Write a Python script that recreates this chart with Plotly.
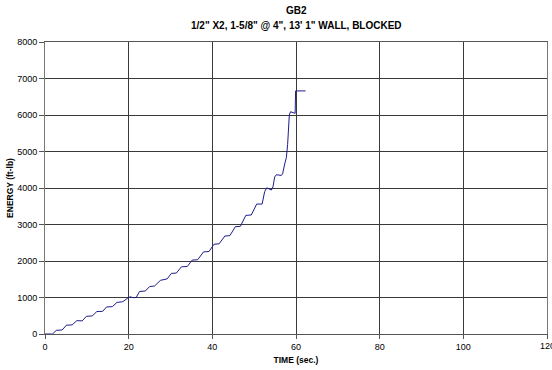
import plotly.graph_objects as go

# Impact test GB2: cumulative energy absorbed by the wall over time
time_s = [
    0.0, 1.8, 2.7, 4.1, 5.1, 6.5, 7.6, 8.9, 9.9, 11.3, 12.4, 13.8,
    14.7, 16.1, 17.2, 18.6, 19.8, 20.4, 21.0, 21.8, 22.6, 24.0, 25.0, 26.2,
    27.6, 29.2, 30.2, 31.4, 32.6, 34.0, 35.2, 36.5, 37.9, 39.2,
    40.4, 41.6, 43.0, 44.2, 45.5, 46.7, 48.0, 49.3, 50.6, 51.9,
    52.5, 53.0, 54.1, 54.5, 54.9, 55.3, 56.5, 56.8, 57.3, 57.7,
    58.0, 58.4, 58.7, 59.6, 59.8, 59.9, 62.3,
]
energy_ftlb = [
    0, 0, 100, 110, 240, 250, 365, 360, 485, 495, 615, 622,
    740, 750, 865, 885, 985, 1020, 995, 1000, 1165, 1178, 1300, 1315,
    1470, 1510, 1660, 1670, 1840, 1850, 2025, 2035, 2250, 2260,
    2460, 2470, 2685, 2695, 2940, 2950, 3250, 3260, 3560, 3560,
    3898, 4005, 3944, 4033, 4300, 4363, 4345, 4390, 4659, 4837,
    5195, 6000, 6090, 6070, 6045, 6660, 6660,
]

x_ticks = [0, 20, 40, 60, 80, 100, 120]
y_ticks = [0, 1000, 2000, 3000, 4000, 5000, 6000, 7000, 8000]

title_lines = ["GB2", "1/2\" X2, 1-5/8\" @ 4\", 13' 1\" WALL, BLOCKED"]

FONT = "Liberation Sans, Arial, sans-serif"
GRID = "#3a3a3a"

fig = go.Figure()
fig.add_trace(go.Scatter(
    x=time_s, y=energy_ftlb, mode="lines",
    line=dict(color="#1c1c8c", width=1),
    hoverinfo="skip", showlegend=False,
))

fig.update_layout(
    width=552, height=370,
    margin=dict(l=45, r=5, t=42, b=36),
    paper_bgcolor="white", plot_bgcolor="white",
    font=dict(family=FONT, size=9, color="#000000"),
)

# two-line chart title
for i, line in enumerate(title_lines):
    fig.add_annotation(
        text=line, xref="paper", yref="paper",
        x=0.5, xanchor="center",
        y=1 + (42 - 11 - 14 * i) / 292, yanchor="middle",
        showarrow=False,
        font=dict(family=FONT, size=10, color="#000000", weight="bold"),
    )

# last x tick label sits on the right edge of the page
fig.add_annotation(
    text=str(x_ticks[-1]), xref="x", yref="paper",
    x=x_ticks[-1], xanchor="center", y=-12 / 292, yanchor="middle",
    showarrow=False, font=dict(family=FONT, size=9, color="#000000"),
)

fig.update_xaxes(
    range=[0, 120], tickvals=x_ticks,
    ticktext=[str(v) for v in x_ticks[:-1]] + [""],
    showgrid=True, gridcolor=GRID, gridwidth=1,
    showline=True, linecolor="#555555", linewidth=1, mirror=True,
    ticks="outside", ticklen=4, tickcolor="#555555",
    tickfont=dict(family=FONT, size=9, color="#000000"),
    zeroline=False,
    title=dict(text="TIME (sec.)", standoff=6,
               font=dict(family=FONT, size=8.5, weight="bold")),
)
fig.update_yaxes(
    range=[0, 8000], tickvals=y_ticks, ticktext=[str(v) for v in y_ticks],
    showgrid=True, gridcolor=GRID, gridwidth=1,
    showline=True, linecolor="#777777", linewidth=1, mirror=True,
    ticks="outside", ticklen=5, tickcolor="#555555",
    tickfont=dict(family=FONT, size=9, color="#000000"),
    zeroline=False,
    title=dict(text="ENERGY (ft-lb)", standoff=2,
               font=dict(family=FONT, size=8.5, weight="bold")),
)

fig.write_html("out.html")
